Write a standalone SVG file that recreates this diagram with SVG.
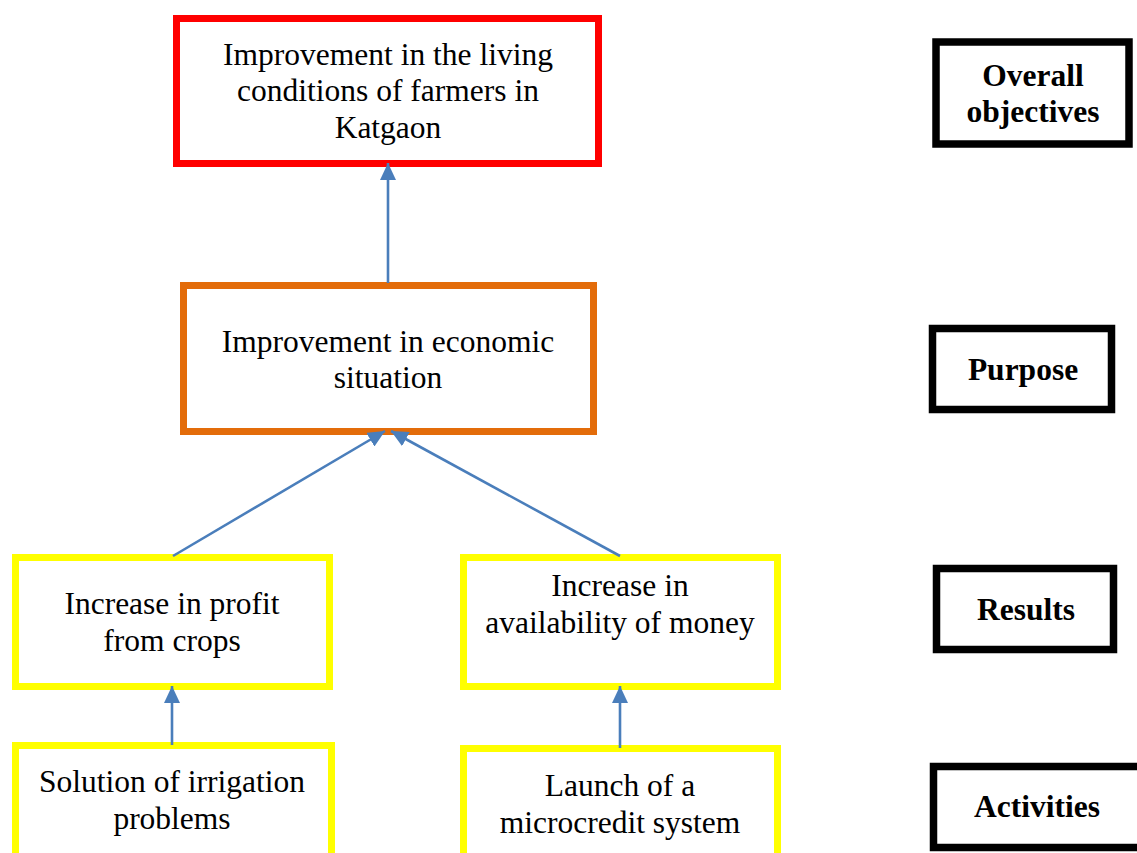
<svg xmlns="http://www.w3.org/2000/svg" width="1137" height="853" viewBox="0 0 1137 853">
<style>
.box{fill:#ffffff;stroke-width:7}
.red{stroke:#ff0000}
.orange{stroke:#e36c0a}
.yellow{stroke:#ffff00}
.lbl{fill:#ffffff;stroke:#000000;stroke-width:7.5}
.t{font-family:"Liberation Serif","Times New Roman",serif;font-size:31.5px;fill:#000000;text-anchor:middle}
.b{font-weight:bold}
.conn{stroke:#4a7ebb;stroke-width:2.6;fill:none;marker-end:url(#ah)}
</style>
<defs>
<marker id="ah" markerUnits="userSpaceOnUse" markerWidth="17" markerHeight="16" viewBox="0 0 17 16" refX="17" refY="8" orient="auto">
<path d="M0,0 L17,8 L0,16 Z" fill="#4a7ebb"/>
</marker>
</defs>
<rect width="1137" height="853" fill="#ffffff"/>
<g id="overall">
<rect class="box red" x="176.5" y="18.5" width="422" height="145"/>
<text class="t" x="388" y="65">Improvement in the living</text>
<text class="t" x="388" y="101">conditions of farmers in</text>
<text class="t" x="388" y="138">Katgaon</text>
</g>
<g id="purpose">
<rect class="box orange" x="183.5" y="285.5" width="410" height="146"/>
<text class="t" x="388" y="352">Improvement in economic</text>
<text class="t" x="388" y="388">situation</text>
</g>
<g id="result1">
<rect class="box yellow" x="15.5" y="557.5" width="314" height="129"/>
<text class="t" x="172" y="614">Increase in profit</text>
<text class="t" x="172" y="651">from crops</text>
</g>
<g id="result2">
<rect class="box yellow" x="463.5" y="557.5" width="314" height="129"/>
<text class="t" x="620" y="596">Increase in</text>
<text class="t" x="620" y="633">availability of money</text>
</g>
<g id="activity1">
<rect class="box yellow" x="15.5" y="745.5" width="316" height="120"/>
<text class="t" x="172" y="792">Solution of irrigation</text>
<text class="t" x="172" y="829">problems</text>
</g>
<g id="activity2">
<rect class="box yellow" x="463.5" y="748.5" width="314" height="120"/>
<text class="t" x="620" y="796">Launch of a</text>
<text class="t" x="620" y="833">microcredit system</text>
</g>
<g id="label-overall">
<rect class="lbl" x="936" y="42" width="193" height="102"/>
<text class="t b" x="1033" y="86">Overall</text>
<text class="t b" x="1033" y="122">objectives</text>
</g>
<g id="label-purpose">
<rect class="lbl" x="932.5" y="328.5" width="179" height="81"/>
<text class="t b" x="1023" y="380">Purpose</text>
</g>
<g id="label-results">
<rect class="lbl" x="936.5" y="568.5" width="177" height="81"/>
<text class="t b" x="1026" y="620">Results</text>
</g>
<g id="label-activities">
<rect class="lbl" x="933.5" y="766.5" width="215" height="81"/>
<text class="t b" x="1037" y="817">Activities</text>
</g>
<g id="connectors">
<line class="conn" x1="388" y1="283" x2="388" y2="163"/>
<line class="conn" x1="173" y1="556" x2="385" y2="431"/>
<line class="conn" x1="620" y1="556" x2="391" y2="431"/>
<line class="conn" x1="172" y1="745" x2="172" y2="686"/>
<line class="conn" x1="620" y1="748" x2="620" y2="686"/>
</g>
</svg>
